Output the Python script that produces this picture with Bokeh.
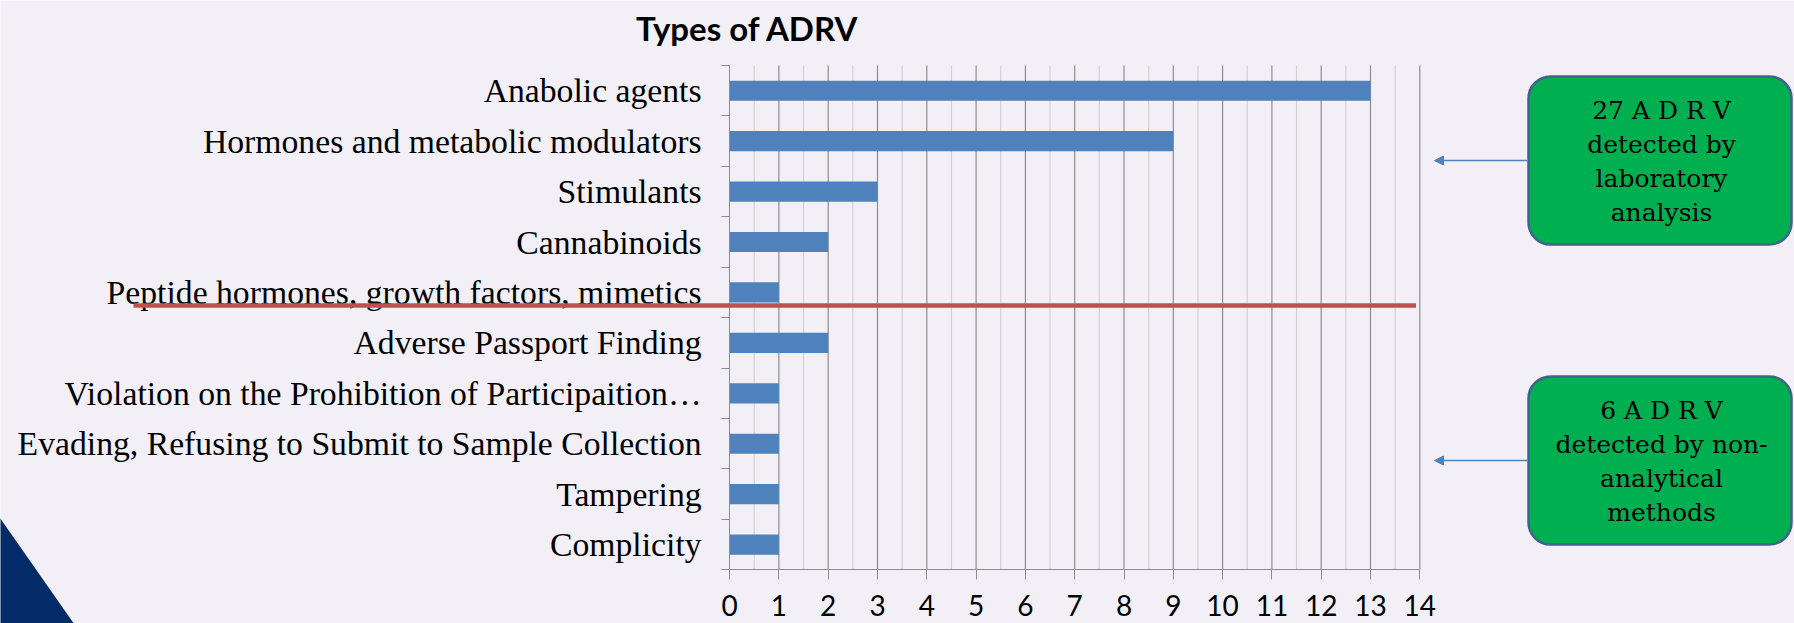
from bokeh.plotting import figure
from bokeh.models import (Range1d, LinearAxis, FixedTicker, BoxAnnotation, Arrow,
                          NormalHead, Grid, Label)
from bokeh.core.properties import value
from bokeh.embed import file_html
from bokeh.resources import INLINE

# ---------------- data ----------------
categories = [
    "Anabolic agents",
    "Hormones and metabolic modulators",
    "Stimulants",
    "Cannabinoids",
    "Peptide hormones, growth factors, mimetics",
    "Adverse Passport Finding",
    "Violation on the Prohibition of Participaition\u2026",
    "Evading, Refusing to Submit to Sample Collection",
    "Tampering",
    "Complicity",
]
counts = [13, 9, 3, 2, 1, 2, 1, 1, 1, 1]
x_ticks = list(range(0, 15))
title_text = "Types of ADRV"
box_lines = [
    ["27 A D R V", "detected by", "laboratory", "analysis"],
    ["6 A D R V", "detected by non-", "analytical", "methods"],
]
n_analytical = 5  # first five categories detected by laboratory analysis

# ---------------- layout helpers (reference pixel -> data) ----------------
X0, SX = 729.1, 49.3      # pixel of x=0, pixels per unit
Y0, SY = 569.3, 50.43     # pixel of y=0, pixels per unit
W, H = 1794, 623


def dx(px):
    return (px - X0) / SX


def dy(py):
    return (Y0 - py) / SY


BG = "#F2F0F6"
GRAY = "#8E8E8E"
MINOR = "#D2D2D2"
BAR = "#4F81BD"

N = len(categories)
y_centers = [N - 0.5 - i for i in range(N)]
boundaries = [float(i) for i in range(N + 1)]
xmax = x_ticks[-1]

p = figure(width=W, height=H, title=None,
           x_range=Range1d(dx(0), dx(W)),
           y_range=Range1d(dy(H), dy(0)),
           x_axis_location=None, y_axis_location=None,
           toolbar_location=None, output_backend="svg", min_border=0)
p.center = [r for r in p.center if not isinstance(r, Grid)]
p.background_fill_color = BG
p.border_fill_color = BG
p.outline_line_color = None

# gridlines (major and minor) limited to the chart area
major_x = [t for t in x_ticks if t > 0]
minor_x = [t + 0.5 for t in x_ticks[:-1]]
p.segment(x0=minor_x, x1=minor_x, y0=[0] * len(minor_x), y1=[N] * len(minor_x),
          line_color=MINOR, line_width=1.2)
p.segment(x0=major_x, x1=major_x, y0=[0] * len(major_x), y1=[N] * len(major_x),
          line_color=GRAY, line_width=1.2)

# bars
p.hbar(y=y_centers, left=0, right=counts, height=0.4, fill_color=BAR, line_color=None)

# axes
yaxis = LinearAxis(fixed_location=0, bounds=(0, N),
                   ticker=FixedTicker(ticks=y_centers, minor_ticks=boundaries),
                   major_label_overrides={c: lab for c, lab in zip(y_centers, categories)},
                   major_tick_out=0, major_tick_in=0,
                   minor_tick_out=8, minor_tick_in=0,
                   axis_line_color=GRAY, minor_tick_line_color=GRAY,
                   major_label_standoff=20,
                   major_label_text_font="Liberation Serif",
                   major_label_text_font_size="33.7px",
                   major_label_text_color="black")
p.add_layout(yaxis, "left")

xaxis = LinearAxis(fixed_location=0, bounds=(0, xmax),
                   ticker=FixedTicker(ticks=x_ticks),
                   major_tick_out=10, major_tick_in=0,
                   minor_tick_out=0, minor_tick_in=0,
                   axis_line_color=GRAY, major_tick_line_color=GRAY,
                   major_label_standoff=15,
                   major_label_text_font="Lato",
                   major_label_text_font_size="28px",
                   major_label_text_color="black")
p.add_layout(xaxis, "below")

# title
p.text(x=[dx(747)], y=[dy(27)], text=[title_text], text_font=value("Lato"),
       text_font_style="bold", text_font_size="33px", text_color="black",
       text_align="center", text_baseline="alphabetic")

# red separator between analytical / non-analytical findings
red = p.segment(x0=[dx(133)], x1=[dx(1415.5)], y0=[n_analytical + 0.24],
                y1=[n_analytical + 0.24], line_color="#C0504D", line_width=4.5)
red.level = "overlay"

# green callout boxes with arrows
box_tops = [76, 376]
box_bottoms = [244, 544]
LINE_STEP = 34
for lines, bt, bb in zip(box_lines, box_tops, box_bottoms):
    p.add_layout(BoxAnnotation(left=dx(1528), right=dx(1791), top=dy(bt), bottom=dy(bb),
                               fill_color="#00B050", fill_alpha=1.0,
                               line_color="#41628F", line_alpha=1.0, line_width=2.5,
                               border_radius=22, level="annotation"))
    cy = (bt + bb) / 2
    k = len(lines)
    for j, line in enumerate(lines):
        yj = dy(cy + 1 + (j - (k - 1) / 2) * LINE_STEP)
        p.add_layout(Label(x=dx(1661), y=yj, text=line, text_font="DejaVu Serif",
                           text_font_size="25px", text_color="black", text_align="center",
                           text_baseline="middle", level="overlay"))
    p.add_layout(Arrow(x_start=dx(1527), y_start=dy(cy), x_end=dx(1434), y_end=dy(cy),
                       line_color=BAR, line_width=1.5,
                       end=NormalHead(size=9, fill_color=BAR, line_color=BAR)))

# navy corner triangle
tri_x = [dx(-10), dx(73.3), dx(-10)]
tri_y = [dy(504), dy(623), dy(623)]
p.patch(x=tri_x, y=tri_y, fill_color="#022B67", line_color=None)

open("out.html", "w").write(file_html(p, INLINE))
